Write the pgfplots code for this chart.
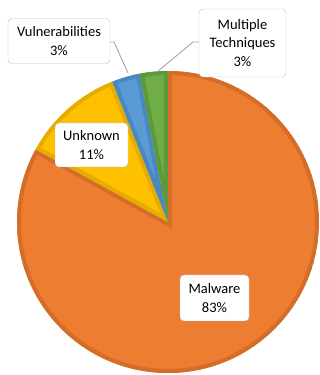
\documentclass[border=0pt]{standalone}
\usepackage{fontspec}
\setmainfont{Carlito}
\usepackage{pgfplots}
\usepackage{pgfplotstable}
\pgfplotsset{compat=1.18}

\definecolor{cMal}{HTML}{ED7D31}\definecolor{bMal}{HTML}{D46D2A}
\definecolor{cUnk}{HTML}{FFC000}\definecolor{bUnk}{HTML}{E6AC00}
\definecolor{cVul}{HTML}{5B9BD5}\definecolor{bVul}{HTML}{4A88C2}
\definecolor{cMul}{HTML}{70AD47}\definecolor{bMul}{HTML}{5F983A}
\definecolor{boxline}{HTML}{BFBFBF}
\definecolor{leader}{HTML}{A6A6A6}

\tikzset{lbl/.style={draw=boxline, fill=white, rounded corners=4pt, align=center,
  font=\fontsize{14.5}{18.5}\selectfont, text=black, inner sep=0pt}}

% share of attacks by vector
\pgfplotstableread{
name value
Malware 83
Unknown 11
Vulnerabilities 3
Multiple 3
}\piedata

\newcommand\getval[2]{\pgfplotstablegetelem{#1}{value}\of\piedata\edef#2{\pgfplotsretval}}
\getval{0}\vA \getval{1}\vB \getval{2}\vC \getval{3}\vD
\pgfmathsetmacro\tot{\vA+\vB+\vC+\vD}
\pgfmathsetmacro\aA{90}
\pgfmathsetmacro\aB{\aA-\vA/\tot*360}
\pgfmathsetmacro\aC{\aB-\vB/\tot*360}
\pgfmathsetmacro\aD{\aC-\vC/\tot*360}
\pgfmathsetmacro\aE{\aD-\vD/\tot*360}

\def\cx{168}\def\cy{153}\def\rr{151}
\newcommand\sect[2]{(axis cs:\cx,\cy) -- (axis cs:{\cx+\rr*cos(#1)},{\cy+\rr*sin(#1)}) arc[start angle=#1,end angle=#2,radius=\rr] -- cycle}
\newcommand\slice[4]{%
  \begin{scope}
    \clip \sect{#1}{#2};
    \fill[#3] \sect{#1}{#2};
    \draw[#4,line width=8pt,line join=miter] \sect{#1}{#2};
  \end{scope}}

\begin{document}
\begin{tikzpicture}
\begin{axis}[
    width=320pt, height=375pt, scale only axis,
    xmin=0, xmax=320, ymin=0, ymax=375,
    hide axis,
  ]
  % keep the full canvas as the bounding box
  \path (axis cs:0,0) rectangle (axis cs:320,375);

  \slice{\aA}{\aB}{cMal}{bMal}
  \slice{\aB}{\aC}{cUnk}{bUnk}
  \slice{\aC}{\aD}{cVul}{bVul}
  \slice{\aD}{\aE}{cMul}{bMul}

  \draw[leader, line width=0.9pt] (axis cs:110,333) -- (axis cs:114,333) -- (axis cs:128,302);
  \draw[leader, line width=0.9pt] (axis cs:199,333) -- (axis cs:193,333) -- (axis cs:157,303);

  \node[lbl, minimum width=102pt, minimum height=45pt] at (axis cs:59,334) {Vulnerabilities\\3\%};
  \node[lbl, minimum width=87pt, minimum height=68pt] at (axis cs:242.5,332) {Multiple\\Techniques\\3\%};
  \node[lbl, minimum width=73pt, minimum height=44pt] at (axis cs:91.5,230) {Unknown\\11\%};
  \node[lbl, minimum width=69pt, minimum height=46pt] at (axis cs:214.5,77) {Malware\\83\%};
\end{axis}
\end{tikzpicture}
\end{document}
